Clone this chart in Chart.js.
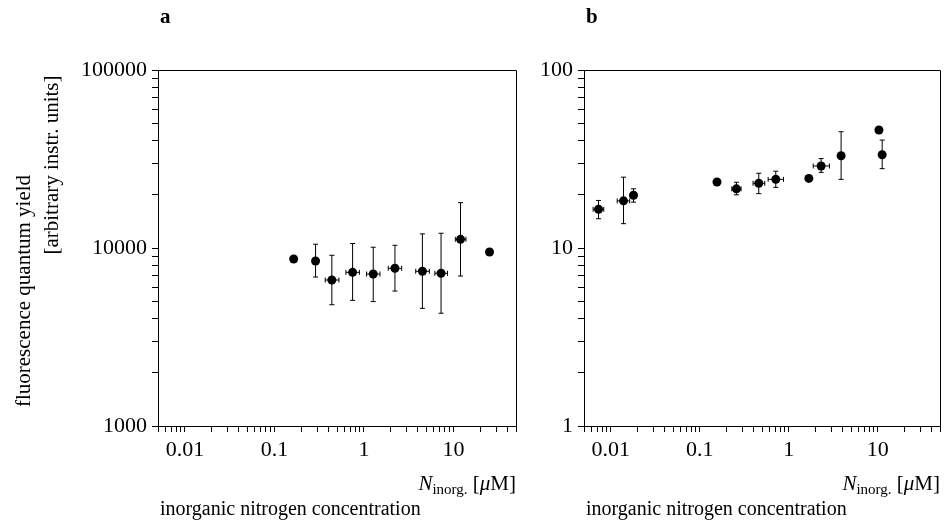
<!DOCTYPE html>
<html>
<head>
<title>fluorescence quantum yield vs inorganic nitrogen</title>
<script src="https://cdn.jsdelivr.net/npm/chart.js"></script>
<style>
  body { margin: 0; background: #fff; }
  #wrap { position: relative; width: 945px; height: 527px; }
  canvas { position: absolute; top: 0; }
</style>
</head>
<body>
<div id="wrap">
  <canvas id="chartA" width="530" height="527" style="left:0"></canvas>
  <canvas id="chartB" width="415" height="527" style="left:530px"></canvas>
</div>
<script>
// tick labels
const xTickLabels = ["0.01", "0.1", "1", "10"];
const aYTickLabels = ["1000", "10000", "100000"];
const bYTickLabels = ["1", "10", "100"];

// panel a
const aX     = [0.164, 0.288, 0.438, 0.747, 1.27, 2.22, 4.5, 7.27, 12.0, 25.3];
const aY     = [8670, 8450, 6610, 7300, 7140, 7690, 7400, 7210, 11190, 9500];
const aYLow  = [null, 6870, 4800, 5080, 5000, 5730, 4580, 4300, 6960, null];
const aYHigh = [null, 10500, 9100, 10600, 10100, 10360, 12000, 12100, 17980, null];
const aXLow  = [null, null, 0.369, 0.63, 1.07, 1.87, 3.79, 6.2, 10.5, null];
const aXHigh = [null, null, 0.525, 0.89, 1.51, 2.64, 5.38, 8.58, 13.8, null];

// panel b
const bX     = [0.00728, 0.0139, 0.018, 0.156, 0.258, 0.46, 0.714, 1.68, 2.31, 3.87, 10.3, 11.2];
const bY     = [16.5, 18.4, 19.8, 23.5, 21.5, 23.1, 24.3, 24.6, 28.9, 33.0, 46.0, 33.4];
const bYLow  = [14.6, 13.7, 18.1, null, 19.9, 20.2, 21.9, null, 26.6, 24.3, null, 27.9];
const bYHigh = [18.5, 25.0, 21.5, null, 23.4, 26.3, 27.0, null, 31.8, 45.0, null, 40.4];
const bXLow  = [0.00633, 0.0118, null, null, 0.229, 0.397, 0.586, null, 1.88, null, null, null];
const bXHigh = [0.00834, 0.0163, null, null, 0.291, 0.537, 0.871, null, 2.86, null, null, null];

const SERIF = "'Liberation Serif', 'DejaVu Serif', serif";

// 1..9 x 10^n tick positions between min and max
function logTicks(min, max) {
  const out = [];
  for (let e = Math.floor(Math.log10(min)); e <= Math.ceil(Math.log10(max)); e++) {
    for (let m = 1; m < 10; m++) {
      const v = parseFloat((m * Math.pow(10, e)).toPrecision(6));
      if (v >= min * 0.999 && v <= max * 1.001) out.push(v);
    }
  }
  return out;
}

function logAxis(min, max, labels, isX, fitSize) {
  return {
    type: 'logarithmic',
    min: min, max: max,
    border: { display: true, color: '#000', width: 1 },
    grid: { drawOnChartArea: false, color: '#000', tickLength: 6, lineWidth: 1 },
    ticks: {
      autoSkip: false, maxRotation: 0, padding: 5, color: '#000',
      font: { family: SERIF, size: 22 },
      callback: v => labels.find(l => Math.abs(Number(l) - v) / v < 1e-6) || ''
    },
    afterBuildTicks: s => { s.ticks = logTicks(min, max).map(v => ({ value: v })); },
    afterFit: s => { if (isX) s.height = fitSize; else s.width = fitSize; }
  };
}

function points(xs, ys) {
  return xs.map((x, i) => ({ x: x, y: ys[i] }));
}

// error bars, frame and text for a panel
function panelPlugin(cfg) {
  return {
    id: 'panel',
    beforeDatasetsDraw(chart) {
      const { ctx, scales: { x, y } } = chart;
      ctx.save();
      ctx.strokeStyle = '#000';
      ctx.lineWidth = 1;
      cfg.xs.forEach((xv, i) => {
        const px = x.getPixelForValue(xv), py = y.getPixelForValue(cfg.ys[i]);
        if (cfg.yLo[i] != null) {
          const y1 = y.getPixelForValue(cfg.yLo[i]), y2 = y.getPixelForValue(cfg.yHi[i]);
          ctx.beginPath();
          ctx.moveTo(px, y1); ctx.lineTo(px, y2);
          ctx.moveTo(px - 2.5, y1); ctx.lineTo(px + 2.5, y1);
          ctx.moveTo(px - 2.5, y2); ctx.lineTo(px + 2.5, y2);
          ctx.stroke();
        }
        if (cfg.xLo[i] != null) {
          const x1 = x.getPixelForValue(cfg.xLo[i]), x2 = x.getPixelForValue(cfg.xHi[i]);
          ctx.beginPath();
          ctx.moveTo(x1, py); ctx.lineTo(x2, py);
          ctx.moveTo(x1, py - 2.5); ctx.lineTo(x1, py + 2.5);
          ctx.moveTo(x2, py - 2.5); ctx.lineTo(x2, py + 2.5);
          ctx.stroke();
        }
      });
      ctx.restore();
    },
    afterDraw(chart) {
      const { ctx, chartArea: a } = chart;
      ctx.save();
      // top and right frame
      ctx.strokeStyle = '#000';
      ctx.lineWidth = 1;
      ctx.beginPath();
      ctx.moveTo(a.left, a.top + 0.5); ctx.lineTo(a.right + 0.5, a.top + 0.5);
      ctx.lineTo(a.right + 0.5, a.bottom);
      ctx.stroke();

      ctx.fillStyle = '#000';
      ctx.textBaseline = 'alphabetic';
      // panel letter
      ctx.font = 'bold 21px ' + SERIF;
      ctx.textAlign = 'left';
      ctx.fillText(cfg.letter, a.left + 2, 23);

      // N_inorg. [μM]
      const parts = [
        { t: 'N', f: 'italic 21px ' + SERIF, dy: 0 },
        { t: 'inorg.', f: '15px ' + SERIF, dy: 4 },
        { t: ' [', f: '21px ' + SERIF, dy: 0 },
        { t: 'μ', f: 'italic 21px ' + SERIF, dy: 0 },
        { t: 'M]', f: '21px ' + SERIF, dy: 0 }
      ];
      let total = 0;
      parts.forEach(p => { ctx.font = p.f; p.w = ctx.measureText(p.t).width; total += p.w; });
      let cx = a.right - total;
      parts.forEach(p => { ctx.font = p.f; ctx.fillText(p.t, cx, 490 + p.dy); cx += p.w; });

      ctx.font = '20px ' + SERIF;
      ctx.fillText('inorganic nitrogen concentration', a.left + 2, 515);

      if (cfg.yTitle) {
        ctx.font = '21px ' + SERIF;
        ctx.textAlign = 'center';
        ctx.textBaseline = 'middle';
        cfg.yTitle.forEach(t => {
          ctx.save();
          ctx.translate(t.x, t.y);
          ctx.rotate(-Math.PI / 2);
          ctx.fillText(t.text, 0, 0);
          ctx.restore();
        });
      }
      ctx.restore();
    }
  };
}

function makeChart(id, cfg) {
  new Chart(document.getElementById(id), {
    type: 'scatter',
    data: {
      datasets: [{
        data: points(cfg.xs, cfg.ys),
        pointRadius: 4.5,
        pointHoverRadius: 4.5,
        backgroundColor: '#000',
        borderWidth: 0
      }]
    },
    options: {
      responsive: false,
      animation: false,
      layout: { padding: { top: 70, right: cfg.padRight, left: 0, bottom: 0 } },
      plugins: { legend: { display: false }, tooltip: { enabled: false } },
      scales: {
        x: logAxis(0.005, 50, xTickLabels, true, 101),
        y: logAxis(cfg.yMin, cfg.yMax, cfg.yLabels, false, cfg.yWidth)
      }
    },
    plugins: [panelPlugin(cfg)]
  });
}

makeChart('chartA', {
  letter: 'a', xs: aX, ys: aY, yLo: aYLow, yHi: aYHigh, xLo: aXLow, xHi: aXHigh,
  yMin: 1000, yMax: 100000, yLabels: aYTickLabels, yWidth: 158, padRight: 14,
  yTitle: [
    { text: 'fluorescence quantum yield', x: 24, y: 291 },
    { text: '[arbitrary instr. units]', x: 52, y: 165 }
  ]
});

makeChart('chartB', {
  letter: 'b', xs: bX, ys: bY, yLo: bYLow, yHi: bYHigh, xLo: bXLow, xHi: bXHigh,
  yMin: 1, yMax: 100, yLabels: bYTickLabels, yWidth: 54, padRight: 2
});
</script>
</body>
</html>
